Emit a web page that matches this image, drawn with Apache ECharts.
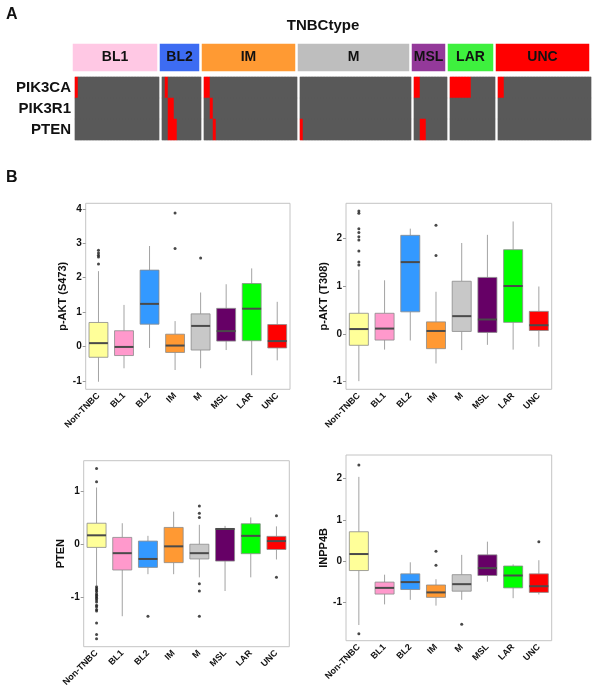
<!DOCTYPE html>
<html>
<head>
<meta charset="utf-8">
<script src="https://cdn.jsdelivr.net/npm/echarts@6/dist/echarts.min.js"></script>
<style>
  html, body { margin: 0; padding: 0; background: #fff; }
  #chart { width: 601px; height: 694px; }
</style>
</head>
<body>
<div id="chart"></div>
<script>
// ---- panel A: mutations by TNBC subtype ----
const subtypes = ['BL1', 'BL2', 'IM', 'M', 'MSL', 'LAR', 'UNC']
const subtypeSizes = [28, 13, 31, 37, 11, 15, 31]
const subtypeColors = ['#ffc8e4', '#3d6cf2', '#ff9a33', '#bebebe', '#94399a', '#3ef03e', '#ff0000']
const genes = ['PIK3CA', 'PIK3R1', 'PTEN']
// mutated sample positions inside each subtype block
const mutPIK3CA = [[0], [1], [0, 1], [], [0, 1], [0, 1, 2, 3, 4, 5, 6], [0, 1]]
const mutPIK3R1 = [[], [2, 3], [2], [], [], [], []]
const mutPTEN = [[], [2, 3, 4], [3], [0], [2, 3], [], []]

// ---- panel B: protein levels ----
const groups = ['Non-TNBC', 'BL1', 'BL2', 'IM', 'M', 'MSL', 'LAR', 'UNC']
const boxColors = ['#ffff99', '#ff99cc', '#3399ff', '#ff9933', '#c8c8c8', '#660066', '#00ff00', '#ff0000']

// [low whisker, Q1, median, Q3, high whisker]
const aktS473Box = [
  [-1.02, -0.31, 0.10, 0.70, 2.19],
  [-0.63, -0.26, -0.01, 0.46, 1.21],
  [-0.04, 0.65, 1.24, 2.22, 2.92],
  [-0.68, -0.17, 0.03, 0.36, 0.74],
  [-0.63, -0.10, 0.60, 0.95, 1.57],
  [-0.10, 0.16, 0.45, 1.11, 1.81],
  [-0.83, 0.17, 1.10, 1.83, 2.27],
  [-0.40, -0.04, 0.16, 0.64, 1.30]
]
const aktS473Out = [[0, 2.80], [0, 2.72], [0, 2.65], [0, 2.60], [0, 2.40], [3, 3.88], [3, 2.85], [4, 2.57]]
const aktS473Ticks = [-1, 0, 1, 2, 3, 4]

const aktT308Box = [
  [-0.99, -0.24, 0.10, 0.43, 1.34],
  [-0.33, -0.13, 0.11, 0.43, 1.12],
  [-0.14, 0.46, 1.50, 2.06, 2.20],
  [-0.62, -0.31, 0.06, 0.25, 0.88],
  [-0.34, 0.05, 0.37, 1.10, 1.90],
  [-0.23, 0.03, 0.30, 1.18, 2.07],
  [-0.33, 0.24, 1.00, 1.76, 2.35],
  [-0.27, 0.07, 0.18, 0.47, 0.99]
]
const aktT308Out = [[0, 2.57], [0, 2.52], [0, 2.20], [0, 2.12], [0, 2.03], [0, 1.96], [0, 1.73], [0, 1.50], [0, 1.44], [3, 2.27], [3, 1.64]]
const aktT308Ticks = [-1, 0, 1, 2]

const ptenBox = [
  [-0.78, -0.06, 0.17, 0.40, 1.08],
  [-1.37, -0.49, -0.17, 0.13, 0.40],
  [-0.57, -0.44, -0.28, 0.06, 0.16],
  [-0.57, -0.35, -0.04, 0.32, 0.62],
  [-0.63, -0.28, -0.17, 0.00, 0.37],
  [-0.89, -0.32, 0.29, 0.30, 0.35],
  [-0.63, -0.18, 0.16, 0.39, 0.51],
  [-0.29, -0.10, 0.06, 0.15, 0.34]
]
const ptenOut = [
  [0, 1.44], [0, 1.19], [0, -0.81], [0, -0.84], [0, -0.87], [0, -0.90], [0, -0.94], [0, -0.97],
  [0, -1.00], [0, -1.03], [0, -1.06], [0, -1.10], [0, -1.16], [0, -1.19], [0, -1.24], [0, -1.27],
  [0, -1.50], [0, -1.72], [0, -1.80], [2, -1.37], [4, 0.73], [4, 0.59], [4, 0.51], [4, -0.75],
  [4, -0.89], [4, -1.37], [7, 0.54], [7, -0.63]
]
const ptenTicks = [-1, 0, 1]

const inpp4bBox = [
  [-1.55, -0.23, 0.17, 0.71, 2.04],
  [-1.05, -0.80, -0.65, -0.51, -0.33],
  [-0.94, -0.69, -0.51, -0.31, -0.03],
  [-1.08, -0.88, -0.76, -0.58, -0.44],
  [-0.94, -0.73, -0.56, -0.33, 0.15],
  [-0.50, -0.35, -0.17, 0.15, 0.47],
  [-0.90, -0.65, -0.35, -0.12, -0.08],
  [-0.81, -0.76, -0.61, -0.31, 0.02]
]
const inpp4bOut = [[0, 2.33], [0, -1.76], [3, 0.24], [3, -0.10], [4, -1.53], [7, 0.47]]
const inpp4bTicks = [-1, 0, 1, 2]

const font = 'Liberation Sans'
const chart = echarts.init(document.getElementById('chart'))

const grid = []
const xAxis = []
const yAxis = []
const series = []
const heatIdx = []

// one grid for the colour bar and one for the mutation block of each subtype
// (whole-pixel cells so the blocks have no seams)
const unit = 3
let x0 = 75
subtypes.forEach((st, g) => {
  const n = subtypeSizes[g]
  const w = n * unit
  const cols = Array.from({ length: n }, (_, i) => i)

  grid.push({ left: x0 - 2, top: 44, width: w, height: 27 })
  let gi = grid.length - 1
  xAxis.push({ gridIndex: gi, type: 'category', data: ['a'], show: false })
  yAxis.push({ gridIndex: gi, type: 'category', data: ['a'], show: false })
  heatIdx.push(series.length)
  series.push({
    type: 'heatmap', xAxisIndex: gi, yAxisIndex: gi,
    data: [[0, 0, 10 + g]],
    label: {
      show: true, formatter: st, fontFamily: font, fontWeight: 'bold',
      fontSize: 14, color: '#111'
    },
    emphasis: { disabled: true }
  })

  grid.push({ left: x0, top: 77, width: w, height: 63, show: true, borderColor: '#d4d4d4', borderWidth: 1 })
  gi = grid.length - 1
  xAxis.push({ gridIndex: gi, type: 'category', data: cols, show: false })
  yAxis.push({
    gridIndex: gi, type: 'category', data: genes, inverse: true, show: g === 0,
    axisLine: { show: false }, axisTick: { show: false },
    axisLabel: { fontFamily: font, fontWeight: 'bold', fontSize: 15, color: '#111', margin: 4 }
  })
  const muts = [mutPIK3CA[g], mutPIK3R1[g], mutPTEN[g]]
  const cells = []
  cols.forEach((c) => {
    muts.forEach((m, r) => cells.push([c, r, m.includes(c) ? 1 : 0]))
  })
  heatIdx.push(series.length)
  series.push({
    type: 'heatmap', xAxisIndex: gi, yAxisIndex: gi, data: cells,
    emphasis: { disabled: true }
  })

  x0 += w + 3
})

// boxplots
const panels = [
  { name: 'p-AKT (S473)', box: aktS473Box, out: aktS473Out, ticks: aktS473Ticks, min: -1.24, max: 4.16,
    pos: { left: 85.7, top: 203.3, width: 204.3, height: 186 }, nameGap: 11.5 },
  { name: 'p-AKT (T308)', box: aktT308Box, out: aktT308Out, ticks: aktT308Ticks, min: -1.16, max: 2.73,
    pos: { left: 346, top: 203.3, width: 205.7, height: 186 }, nameGap: 10 },
  { name: 'PTEN', box: ptenBox, out: ptenOut, ticks: ptenTicks, min: -1.95, max: 1.59,
    pos: { left: 83.7, top: 460.7, width: 205.6, height: 186 }, nameGap: 13.5 },
  { name: 'INPP4B', box: inpp4bBox, out: inpp4bOut, ticks: inpp4bTicks, min: -1.93, max: 2.57,
    pos: { left: 346, top: 455, width: 205.7, height: 185.7 }, nameGap: 16 }
]

function renderBox(params, api) {
  const cat = api.value(0)
  const low = api.coord([cat, api.value(1)])
  const q1 = api.coord([cat, api.value(2)])
  const med = api.coord([cat, api.value(3)])
  const q3 = api.coord([cat, api.value(4)])
  const high = api.coord([cat, api.value(5)])
  const bw = api.size([1, 0])[0] * 0.74
  const cx = med[0]
  const whisker = { stroke: '#a3a3a3', lineWidth: 1 }
  return {
    type: 'group',
    children: [
      { type: 'line', shape: { x1: cx, y1: low[1], x2: cx, y2: q1[1] }, style: whisker },
      { type: 'line', shape: { x1: cx, y1: q3[1], x2: cx, y2: high[1] }, style: whisker },
      {
        type: 'rect',
        shape: { x: cx - bw / 2, y: q3[1], width: bw, height: q1[1] - q3[1] },
        style: { fill: boxColors[cat], stroke: '#8a8a8a', lineWidth: 0.8 }
      },
      {
        type: 'line',
        shape: { x1: cx - bw / 2, y1: med[1], x2: cx + bw / 2, y2: med[1] },
        style: { stroke: '#4a4a4a', lineWidth: 2 }
      }
    ]
  }
}

panels.forEach((p) => {
  grid.push(Object.assign({ show: true, borderColor: '#c4c4c4', borderWidth: 1 }, p.pos))
  const gi = grid.length - 1
  xAxis.push({
    gridIndex: gi, type: 'category', data: groups,
    axisLine: { show: false },
    axisTick: { alignWithLabel: true, length: 3, lineStyle: { color: '#999' } },
    axisLabel: {
      interval: 0, rotate: 45, margin: 5, fontFamily: font, fontWeight: 'bold',
      fontSize: 9, color: '#111'
    }
  })
  yAxis.push({
    gridIndex: gi, type: 'value', min: p.min, max: p.max,
    axisLine: { show: false }, splitLine: { show: false },
    axisTick: { show: true, customValues: p.ticks, length: 3, lineStyle: { color: '#999' } },
    axisLabel: {
      customValues: p.ticks, margin: 4, fontFamily: font, fontWeight: 'bold',
      fontSize: 10, color: '#111'
    },
    name: p.name, nameLocation: 'middle', nameGap: p.nameGap,
    nameTextStyle: { fontFamily: font, fontWeight: 'bold', fontSize: 11, color: '#111' }
  })
  series.push({
    type: 'custom', xAxisIndex: gi, yAxisIndex: gi,
    renderItem: renderBox,
    encode: { x: 0, y: [1, 2, 3, 4, 5] },
    data: p.box.map((b, i) => [i].concat(b)),
    silent: true
  })
  series.push({
    type: 'scatter', xAxisIndex: gi, yAxisIndex: gi,
    data: p.out, symbolSize: 3,
    itemStyle: { color: '#1a1a1a' },
    silent: true
  })
})

chart.setOption({
  animation: false,
  grid,
  xAxis,
  yAxis,
  visualMap: {
    type: 'piecewise', show: false, dimension: 2, seriesIndex: heatIdx,
    pieces: [
      { value: 0, color: '#595959' },
      { value: 1, color: '#ff0000' }
    ].concat(subtypeColors.map((c, g) => ({ value: 10 + g, color: c })))
  },
  graphic: [
    { type: 'text', x: 6, y: 7, style: { text: 'A', font: 'bold 16px "Liberation Sans"', fill: '#111' } },
    {
      type: 'text', x: 323, y: 26,
      style: { text: 'TNBCtype', font: 'bold 15px "Liberation Sans"', fill: '#111', align: 'center', verticalAlign: 'middle' }
    },
    { type: 'text', x: 6, y: 170, style: { text: 'B', font: 'bold 16px "Liberation Sans"', fill: '#111' } }
  ],
  series
})
</script>
</body>
</html>
